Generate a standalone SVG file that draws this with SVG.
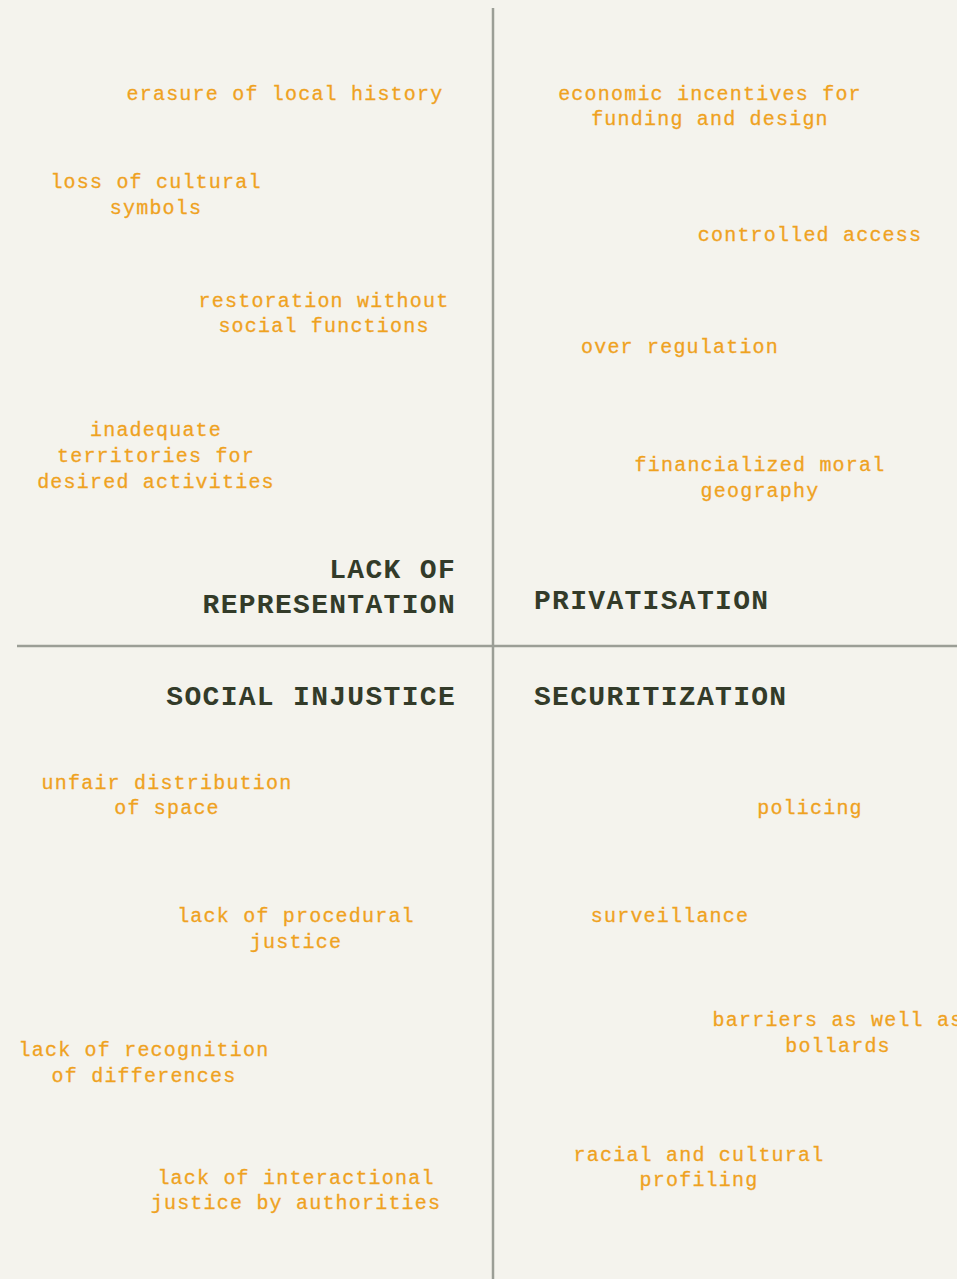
<svg xmlns="http://www.w3.org/2000/svg" width="957" height="1279" viewBox="0 0 957 1279">
  <style>
    .item { font-family: "Liberation Mono", "DejaVu Sans Mono", monospace; font-size: 20px; letter-spacing: 1.2px; fill: #efa21f; stroke: #efa21f; stroke-width: 0.3; text-anchor: middle; }
    .head { font-family: "Liberation Mono", "DejaVu Sans Mono", monospace; font-size: 28px; font-weight: bold; letter-spacing: 1.3px; fill: #333b29; }
    .axis { stroke: #9b9e96; stroke-width: 2.5; fill: none; }
  </style>
  <rect width="957" height="1279" fill="#f4f3ed"/>

  <!-- quadrant axes -->
  <g id="axes">
    <line class="axis" x1="493" y1="8" x2="493" y2="1279"/>
    <line class="axis" x1="17" y1="646" x2="957" y2="646"/>
  </g>

  <!-- quadrant titles -->
  <g id="title-representation">
    <text class="head" x="456" y="578" text-anchor="end">LACK OF</text>
    <text class="head" x="456" y="613" text-anchor="end">REPRESENTATION</text>
  </g>
  <g id="title-privatisation">
    <text class="head" x="534" y="609">PRIVATISATION</text>
  </g>
  <g id="title-injustice">
    <text class="head" x="456" y="705" text-anchor="end">SOCIAL INJUSTICE</text>
  </g>
  <g id="title-securitization">
    <text class="head" x="534" y="705">SECURITIZATION</text>
  </g>

  <!-- lack of representation -->
  <g id="erasure"><text class="item" x="285" y="100">erasure of local history</text></g>
  <g id="cultural-symbols">
    <text class="item" x="156" y="188">loss of cultural</text>
    <text class="item" x="156" y="214">symbols</text>
  </g>
  <g id="restoration">
    <text class="item" x="324" y="307">restoration without</text>
    <text class="item" x="324" y="332">social functions</text>
  </g>
  <g id="territories">
    <text class="item" x="156" y="436">inadequate</text>
    <text class="item" x="156" y="462">territories for</text>
    <text class="item" x="156" y="488">desired activities</text>
  </g>

  <!-- privatisation -->
  <g id="incentives">
    <text class="item" x="710" y="100">economic incentives for</text>
    <text class="item" x="710" y="125">funding and design</text>
  </g>
  <g id="controlled-access"><text class="item" x="810" y="241">controlled access</text></g>
  <g id="over-regulation"><text class="item" x="680" y="353">over regulation</text></g>
  <g id="moral-geography">
    <text class="item" x="760" y="471">financialized moral</text>
    <text class="item" x="760" y="497">geography</text>
  </g>

  <!-- social injustice -->
  <g id="distribution">
    <text class="item" x="167" y="789">unfair distribution</text>
    <text class="item" x="167" y="814">of space</text>
  </g>
  <g id="procedural">
    <text class="item" x="296" y="922">lack of procedural</text>
    <text class="item" x="296" y="948">justice</text>
  </g>
  <g id="recognition">
    <text class="item" x="144" y="1056">lack of recognition</text>
    <text class="item" x="144" y="1082">of differences</text>
  </g>
  <g id="interactional">
    <text class="item" x="296" y="1184">lack of interactional</text>
    <text class="item" x="296" y="1209">justice by authorities</text>
  </g>

  <!-- securitization -->
  <g id="policing"><text class="item" x="810" y="814">policing</text></g>
  <g id="surveillance"><text class="item" x="670" y="922">surveillance</text></g>
  <g id="barriers">
    <text class="item" x="838" y="1026">barriers as well as</text>
    <text class="item" x="838" y="1052">bollards</text>
  </g>
  <g id="profiling">
    <text class="item" x="699" y="1161">racial and cultural</text>
    <text class="item" x="699" y="1186">profiling</text>
  </g>
</svg>
